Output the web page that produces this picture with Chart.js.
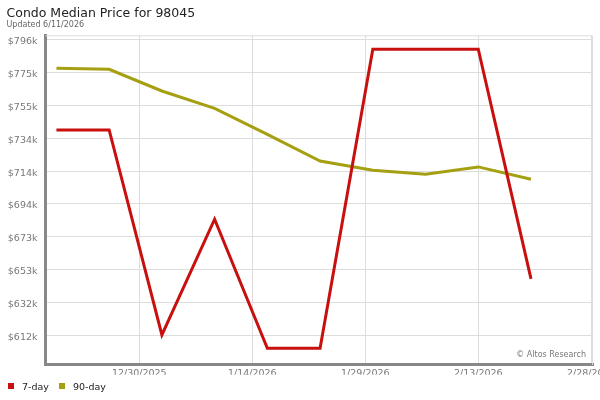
<!DOCTYPE html>
<html>
<head>
<meta charset="utf-8">
<script src="https://cdn.jsdelivr.net/npm/chart.js@4"></script>
<style>
  html, body { margin: 0; padding: 0; background: #fff; overflow: hidden; }
  #wrap { position: relative; width: 600px; height: 400px; }
  #legend {
    position: absolute; left: 0; top: 380px; height: 12px;
    display: flex; align-items: center;
    font: 9.5px 'DejaVu Sans', sans-serif; color: #222;
  }
  #legend .item { display: flex; align-items: center; }
  #legend .box { width: 6px; height: 6px; display: inline-block; }
</style>
</head>
<body>
<div id="wrap">
  <canvas id="myChart" width="600" height="400"></canvas>
  <div id="legend"></div>
</div>
<script>
// weekly points, prices in $k
const weekDates = ['12/19/2025', '12/26/2025', '1/2/2026', '1/9/2026', '1/16/2026',
                   '1/23/2026', '1/30/2026', '2/6/2026', '2/13/2026', '2/20/2026'];
const sevenDay = [739.7, 739.7, 612.0, 684.1, 603.7, 603.7, 790.0, 790.0, 790.0, 646.9];
const ninetyDay = [778.2, 777.5, 764.0, 753.2, 737.0, 720.4, 714.6, 712.1, 716.7, 709.0];

const xTickLabels = ['12/30/2025', '1/14/2026', '1/29/2026', '2/13/2026', '2/28/2026'];
const yTickValues = [611.8, 632.2, 652.7, 673.1, 693.6, 714.0, 734.4, 754.9, 775.3, 795.8];
const yTickLabels = ['$612k', '$632k', '$653k', '$673k', '$694k', '$714k', '$734k', '$755k', '$775k', '$796k'];

// days since 12/30/2025
function toDay(s) {
    const p = s.split('/').map(Number);
    return (Date.UTC(p[2], p[0] - 1, p[1]) - Date.UTC(2025, 11, 30)) / 86400000;
}
const xTickValues = xTickLabels.map(toDay);

Chart.defaults.font.family = "'DejaVu Sans', sans-serif";

const framePlugin = {
    id: 'frame',
    beforeDatasetsDraw(chart) {
        const a = chart.chartArea, c = chart.ctx;
        c.save();
        c.strokeStyle = '#dddddd';
        c.lineWidth = 1;
        c.beginPath();
        c.moveTo(a.left, a.top + 0.5);
        c.lineTo(a.right - 0.5, a.top + 0.5);
        c.lineTo(a.right - 0.5, a.bottom);
        c.stroke();
        c.restore();
    },
    afterDraw(chart) {
        const a = chart.chartArea, c = chart.ctx;
        c.save();
        c.font = "8px 'DejaVu Sans', sans-serif";
        c.fillStyle = '#777';
        c.textAlign = 'right';
        c.textBaseline = 'alphabetic';
        c.fillText('\u00a9 Altos Research', a.right - 7, a.bottom - 7.5);
        c.restore();
    }
};

const data = {
    datasets: [
        {
            label: '7-day',
            data: weekDates.map((d, i) => ({ x: toDay(d), y: sevenDay[i] })),
            borderColor: '#c8100f',
            backgroundColor: '#c8100f',
            borderWidth: 3,
            pointRadius: 0,
            tension: 0
        },
        {
            label: '90-day',
            data: weekDates.map((d, i) => ({ x: toDay(d), y: ninetyDay[i] })),
            borderColor: '#a4a012',
            backgroundColor: '#a4a012',
            borderWidth: 3,
            pointRadius: 0,
            tension: 0
        }
    ]
};

var ctx = document.getElementById('myChart').getContext('2d');
var myChart = new Chart(ctx, {
    type: 'line',
    data: data,
    plugins: [framePlugin],
    options: {
        responsive: false,
        animation: false,
        layout: { padding: { left: 6.5, right: 7, top: 0, bottom: 25.2 } },
        scales: {
            x: {
                type: 'linear',
                min: -12.45,
                max: 60.23,
                afterBuildTicks: (scale) => { scale.ticks = xTickValues.map(v => ({ value: v })); },
                afterFit: (scale) => { scale.height = 10; scale.paddingLeft = 0; scale.paddingRight = 0; },
                ticks: {
                    autoSkip: false,
                    maxRotation: 0,
                    padding: 3,
                    color: '#777',
                    font: { size: 9.5 },
                    callback: (v, i) => xTickLabels[i]
                },
                grid: { color: '#dddddd', drawTicks: false },
                border: { color: '#888', width: 3 }
            },
            y: {
                min: 593.4,
                max: 798.7,
                afterBuildTicks: (scale) => { scale.ticks = yTickValues.map(v => ({ value: v })); },
                afterFit: (scale) => { scale.width = 39; scale.paddingTop = 0; scale.paddingBottom = 0; },
                ticks: {
                    padding: 8,
                    labelOffset: 2,
                    color: '#777',
                    font: { size: 9.5 },
                    callback: (v, i) => yTickLabels[i]
                },
                grid: { color: '#dddddd', drawTicks: false },
                border: { color: '#888', width: 3 }
            }
        },
        plugins: {
            legend: { display: false },
            tooltip: { enabled: false },
            title: {
                display: true,
                text: 'Condo Median Price for 98045',
                align: 'start',
                color: '#222',
                font: { size: 12.5, weight: 'normal' },
                padding: { top: 6, bottom: 0 }
            },
            subtitle: {
                display: true,
                text: 'Updated 6/11/2026',
                align: 'start',
                color: '#666',
                font: { size: 8 },
                padding: { top: -1, bottom: 5.7 }
            }
        }
    }
});

// html legend from the datasets
const legendEl = document.getElementById('legend');
myChart.data.datasets.forEach((ds, i) => {
    const item = document.createElement('span');
    item.className = 'item';
    item.style.marginLeft = i === 0 ? '8.3px' : '10.3px';
    const box = document.createElement('span');
    box.className = 'box';
    box.style.background = ds.borderColor;
    box.style.marginRight = '7.7px';
    const txt = document.createElement('span');
    txt.textContent = ds.label;
    item.appendChild(box);
    item.appendChild(txt);
    legendEl.appendChild(item);
});
</script>
</body>
</html>
